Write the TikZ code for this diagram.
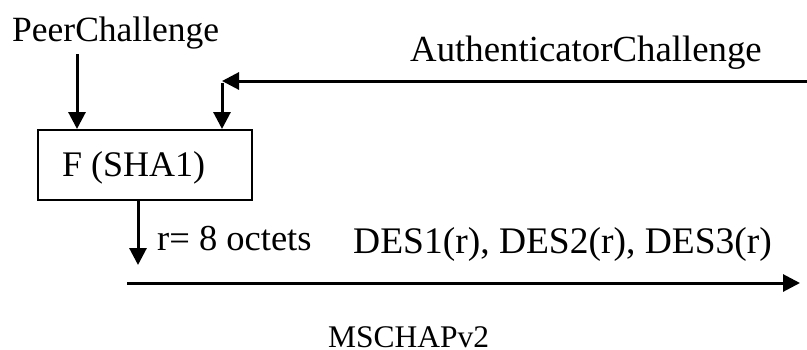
\documentclass[tikz,border=0pt]{standalone}
\usepackage{fontspec}
\setmainfont{Liberation Serif}
\usetikzlibrary{arrows.meta}
\begin{document}
\begin{tikzpicture}[x=1pt,y=-1pt,
  lbl/.style={anchor=base west,inner sep=0pt,font=\fontsize{36}{40}\selectfont},
  conn/.style={line width=3pt,-{Triangle[length=17pt,width=17pt]}},
  fbox/.style={draw,line width=2pt,minimum width=214pt,minimum height=70pt,inner sep=0pt}]
\useasboundingbox (0,0) rectangle (807,349);
\node[fbox] (f) at (145,165) {};
\node[lbl] (ftext) at (62,176) {F (SHA1)};
\node[lbl,font=\fontsize{35.5}{40}\selectfont] (peer) at (12,41) {PeerChallenge};
\node[lbl,font=\fontsize{36.8}{40}\selectfont] (auth) at (410,61) {AuthenticatorChallenge};
\node[lbl,font=\fontsize{36.5}{40}\selectfont] (r) at (157,250) {r= 8 octets};
\node[lbl,font=\fontsize{37.5}{40}\selectfont] (des) at (353,253) {DES1(r), DES2(r), DES3(r)};
\node[lbl,font=\fontsize{31.5}{36}\selectfont] (ms) at (328,347) {MSCHAPv2};
\coordinate (pS) at (77,54);
\coordinate (aR) at (807,81);
\coordinate (aC) at (222,81);
\coordinate (rE) at (138,265);
\coordinate (bS) at (127,283);
\coordinate (bE) at (800,283);
\draw[conn] (pS) -- (pS |- f.north);
\draw[conn] (aR) -- (aC);
\draw[conn] ([yshift=-1.5pt]aC) -- (aC |- f.north);
\draw[conn] (rE |- f.south) -- (rE);
\draw[conn] (bS) -- (bE);
\end{tikzpicture}
\end{document}
